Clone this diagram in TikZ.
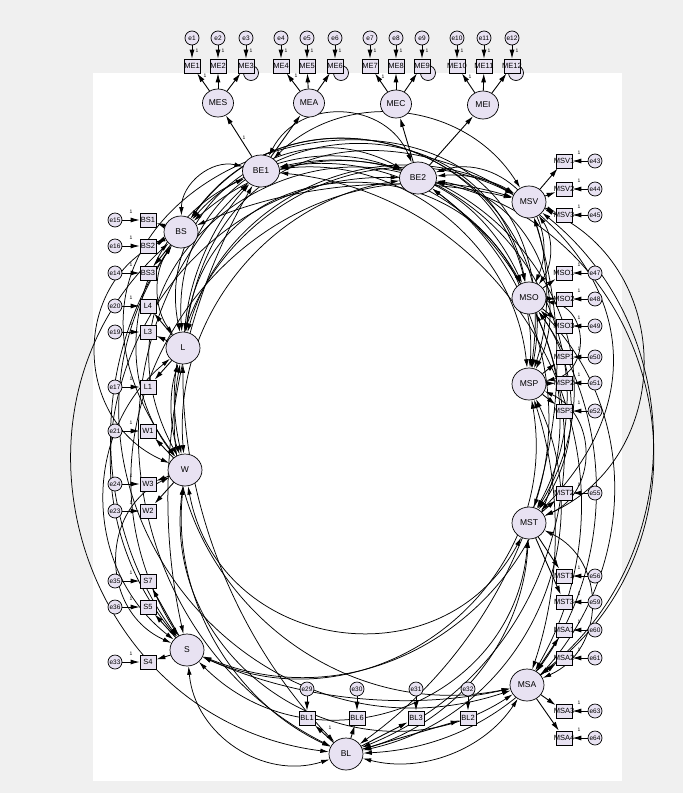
\documentclass[tikz,border=0pt]{standalone}
\usepackage{fontspec}
\setmainfont{Liberation Sans}
\usetikzlibrary{arrows.meta,shapes.geometric}
\pgfdeclarelayer{back}
\pgfdeclarelayer{arcs}
\pgfsetlayers{back,arcs,main}
\definecolor{bggray}{RGB}{240,240,240}
\definecolor{latfill}{RGB}{232,226,242}
\newcommand\ovl[1]{\makebox[0pt]{#1}}
\begin{document}
\begin{tikzpicture}[x=1pt,y=-1pt,
  lat/.style={ellipse,draw,fill=latfill,line width=0.7pt,minimum width=34pt,minimum height=32pt,inner sep=0pt,font=\fontsize{8.5}{8.5}\selectfont},
  obs/.style={rectangle,draw,fill=latfill,line width=0.7pt,minimum width=16pt,minimum height=14pt,inner sep=0pt,font=\fontsize{7.5}{7.5}\selectfont},
  err/.style={circle,draw,fill=latfill,line width=0.7pt,minimum size=14pt,inner sep=0pt,font=\fontsize{6.5}{6.5}\selectfont},
  dist/.style={circle,draw,fill=latfill,line width=0.7pt,minimum size=15pt,inner sep=0pt},
  reg/.style={-{Latex[length=9pt,width=5pt]},line width=0.9pt},
  cov/.style={{Latex[length=8.5pt,width=4.5pt]}-{Latex[length=8.5pt,width=4.5pt]},line width=0.75pt},
  one/.style={font=\fontsize{5}{5}\selectfont,inner sep=0pt}]
\useasboundingbox (0,0) rectangle (683,793);
\begin{pgfonlayer}{back}
\fill[bggray] (0,0) rectangle (683,793);
\fill[white] (93,73) rectangle (622,781);
\end{pgfonlayer}

% ring latents
\node[lat,alias=r0] (MST) at (529,523) {MST};
\node[lat,alias=r1] (MSP) at (529,384) {MSP};
\node[lat,alias=r2] (MSO) at (529,298) {MSO};
\node[lat,alias=r3] (MSV) at (529,202) {MSV};
\node[lat,alias=r4,minimum width=37pt] (BE2) at (418,178) {BE2};
\node[lat,alias=r5,minimum width=37pt] (BE1) at (261,171) {BE1};
\node[lat,alias=r6] (BS) at (181,232) {BS};
\node[lat,alias=r7] (L) at (183,348) {L};
\node[lat,alias=r8] (W) at (185,470) {W};
\node[lat,alias=r9] (S) at (187,650) {S};
\node[lat,alias=r10] (BL) at (346,754) {BL};
\node[lat,alias=r11] (MSA) at (527,685) {MSA};

% top latents
\node[lat,minimum width=31pt,minimum height=28pt] (MES) at (218,103) {MES};
\node[lat,minimum width=31pt,minimum height=28pt] (MEA) at (309,103) {MEA};
\node[lat,minimum width=31pt,minimum height=28pt] (MEC) at (396,104) {MEC};
\node[lat,minimum width=31pt,minimum height=28pt] (MEI) at (483,105) {MEI};

\draw[reg] (BE1) -- (MES) node[one,pos=0.45,right=2pt] {1};
\draw[reg] (BE1) -- (MEA);
\draw[reg] (BE2) -- (MEC);
\draw[reg] (BE2) -- (MEI);

% small circles overlapping the third indicator of each group
\node[dist] (d1) at (251,73) {};
\node[dist] (d2) at (341,73) {};
\node[dist] (d3) at (428,73) {};
\node[dist] (d4) at (516,73) {};

% top indicators
\foreach \k/\x/\lt in {1/192/MES,2/218/MES,3/246/MES,4/281/MEA,5/307/MEA,6/335/MEA,7/370/MEC,8/396/MEC,9/422/MEC,10/457/MEI,11/484/MEI,12/512/MEI}{
  \node[obs] (ME\k) at (\x,66) {\ovl{ME\k}};
  \node[err] (e\k) at (\x,38) {\ovl{e\k}};
  \draw[reg] (e\k) -- (ME\k);
  \draw[reg] (\lt) -- (ME\k);
  \node[one] at (\x+5,51) {1};
}
\node[one] at (205,76) {1};
\node[one] at (296,76) {1};
\node[one] at (383,77) {1};
\node[one] at (470,77) {1};

% left indicators
\foreach \nm/\y/\en/\lt in {BS1/220/e15/BS,BS2/246/e16/BS,BS3/273/e14/BS,L4/306/e20/L,L3/332/e19/L,L1/387/e17/L,W1/431/e21/W,W3/484/e24/W,W2/511/e23/W,S7/581/e35/S,S5/607/e36/S,S4/662/e33/S}{
  \node[obs] (\nm) at (148,\y) {\ovl{\nm}};
  \node[err] (\en) at (115,\y) {\ovl{\en}};
  \draw[reg] (\en) -- (\nm);
  \draw[reg] (\lt) -- (\nm);
  \node[one] at (131,\y-8) {1};
}

% right indicators
\foreach \nm/\y/\en/\lt in {MSV1/161/e43/MSV,MSV2/189/e44/MSV,MSV3/215/e45/MSV,MSO1/273/e47/MSO,MSO2/299/e48/MSO,MSO3/326/e49/MSO,MSP1/357/e50/MSP,MSP2/383/e51/MSP,MSP3/411/e52/MSP,MST2/493/e55/MST,MST1/576/e56/MST,MST3/602/e59/MST,MSA1/630/e60/MSA,MSA2/658/e61/MSA,MSA3/711/e63/MSA,MSA4/738/e64/MSA}{
  \node[obs] (\nm) at (564,\y) {\ovl{\nm}};
  \node[err] (\en) at (595,\y) {\ovl{\en}};
  \draw[reg] (\en) -- (\nm);
  \draw[reg] (\lt) -- (\nm);
  \node[one] at (579,\y-8) {1};
}

% bottom indicators
\foreach \nm/\x/\en in {BL1/307/e29,BL6/357/e30,BL3/416/e31,BL2/468/e32}{
  \node[obs] (\nm) at (\x,718) {\ovl{\nm}};
  \node[err] (\en) at (\x,689) {\ovl{\en}};
  \draw[reg] (\en) -- (\nm);
  \draw[reg] (BL) -- (\nm);
}
\node[one] at (330,728) {1};

% covariances among the twelve ring latents (circular arcs kept outside an empty core)
\def\PX{{529,529,529,529,418,261,181,183,185,187,346,527}}
\def\PY{{523,384,298,202,178,171,232,348,470,650,754,685}}
\def\angs{{-15.8,12.5,28.1,41.4,69.9,119.3,142.9,160.8,185.2,217.0,266.7,318.6}}
\begin{pgfonlayer}{arcs}
\foreach \i in {0,...,10}{
  \pgfmathtruncatemacro\ii{\i+1}
  \foreach \j in {\ii,...,11}{
    \pgfmathsetmacro\dd{\angs[\j]-\angs[\i]}
    \ifdim\dd pt>180pt
      \edef\na{\j}\edef\nb{\i}
    \else
      \edef\na{\i}\edef\nb{\j}
    \fi
    \pgfmathtruncatemacro\vv{mod(3*\i+5*\j+\i*\j,4)}
    \pgfmathtruncatemacro\ww{mod(\i+2*\j+1,4)}
    \pgfmathsetmacro\ff{1.0+0.1*\vv}
    \pgfmathsetmacro\gg{0.08+0.08*\ww}
    \pgfmathsetmacro\xa{\PX[\na]}
    \pgfmathsetmacro\ya{\PY[\na]}
    \pgfmathsetmacro\xb{\PX[\nb]}
    \pgfmathsetmacro\yb{\PY[\nb]}
    \pgfmathsetmacro\Lc{veclen(\xb-\xa,\yb-\ya)}
    \pgfmathsetmacro\nx{-(\yb-\ya)/\Lc}
    \pgfmathsetmacro\ny{(\xb-\xa)/\Lc}
    \pgfmathsetmacro\px{((\xa+\xb)/2-360)/165}
    \pgfmathsetmacro\py{((\ya+\yb)/2-420)/200}
    \pgfmathsetmacro\qx{\nx/1.65}
    \pgfmathsetmacro\qy{\ny/2.0}
    \pgfmathsetmacro\pq{\px*\qx+\py*\qy}
    \pgfmathsetmacro\qq{\qx*\qx+\qy*\qy}
    \pgfmathsetmacro\pp{\px*\px+\py*\py}
    \pgfmathsetmacro\disc{max(0,\pq*\pq-\qq*(\pp-\ff*\ff))}
    \pgfmathsetmacro\sc{100*(-\pq+sqrt(\disc))/\qq}
    \pgfmathsetmacro\ss{max(\sc,\gg*\Lc)}
    \pgfmathsetmacro\bb{min(118,2*atan(\ss/(\Lc/2)))}
    \pgfmathsetmacro\lo{(2/3)*tan(\bb/2)/sin(\bb)/0.3915}
    \draw[cov] (r\na) to[bend right=\bb,looseness=\lo] (r\nb);
  }
}
\end{pgfonlayer}
\end{tikzpicture}
\end{document}
